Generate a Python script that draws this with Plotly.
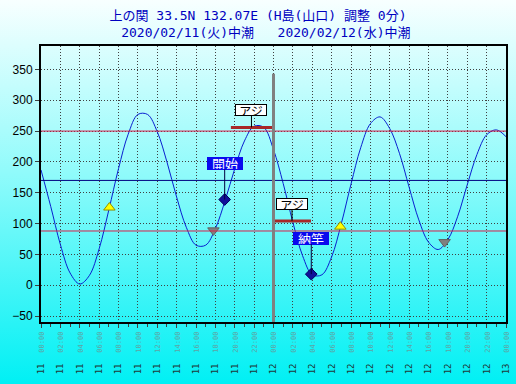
import base64
import plotly.graph_objects as go

# ---- data ----
hours = list(range(0, 49))
tide_cm = [187, 128, 66, 20, 2, 16, 59, 122, 189, 245, 277, 277, 249, 200, 143, 94,
           65, 65, 92, 137, 189, 234, 258, 256, 220, 165, 102, 48, 17, 17, 46, 100,
           164, 223, 262, 273, 254, 214, 159, 106, 70, 58, 74, 111, 163, 212, 244, 252, 241]

tick_hours = list(range(0, 49, 2))
tick_days = ["11"] * 12 + ["12"] * 12 + ["13"]
tick_times = ["00:00", "02:00", "04:00", "06:00", "08:00", "10:00", "12:00", "14:00",
              "16:00", "18:00", "20:00", "22:00"] * 2 + ["00:00"]

ref_levels = [250, 170, 88]
ref_colors = ["#d8204a", "#000080", "#d8204a"]

tri_up_x = [7.06, 30.9]
tri_up_y = [126, 95]
tri_down_x = [17.8, 41.66]
tri_down_y = [89, 70]
event_x = [18.96, 27.9]
event_y = [139, 18]
event_text = ["開始", "納竿"]

fish_x0 = [19.6, 23.95]
fish_x1 = [23.85, 27.87]
fish_y = [256, 104]
fish_text = ["アジ", "アジ"]

date_line_x = 24
date_line_y = [-59.6, 343]

title1 = "上の関 33.5N 132.07E (H島(山口) 調整 0分)"
title2 = "\u00a0\u00a02020/02/11(火)中潮\u00a0\u00a0\u00a02020/02/12(水)中潮"

# ---- figure ----
fig = go.Figure()

fig.add_trace(go.Scatter(x=hours, y=tide_cm, mode="lines", line=dict(color="#0a20d0", width=1, shape="spline"),
                         hoverinfo="skip", showlegend=False))

for lv, col in zip(ref_levels, ref_colors):
    fig.add_hline(y=lv, line=dict(color=col, width=1), layer="above")

fig.add_shape(type="line", xref="x", yref="y", x0=date_line_x, x1=date_line_x,
              y0=date_line_y[0], y1=date_line_y[1], line=dict(color="#808080", width=3), layer="above")

for x0, x1, y in zip(fish_x0, fish_x1, fish_y):
    fig.add_trace(go.Scatter(x=[x0, x1], y=[y, y], mode="lines",
                             line=dict(color="#a82828", width=3), showlegend=False, hoverinfo="skip"))

fig.add_trace(go.Scatter(x=tri_up_x, y=tri_up_y, mode="markers",
                         marker=dict(symbol="triangle-up", size=10, color="#ffff00",
                                     line=dict(color="#909000", width=1)), showlegend=False))
fig.add_trace(go.Scatter(x=tri_down_x, y=tri_down_y, mode="markers",
                         marker=dict(symbol="triangle-down", size=10, color="#808080",
                                     line=dict(color="#606060", width=1)), showlegend=False))
fig.add_trace(go.Scatter(x=event_x, y=event_y, mode="markers",
                         marker=dict(symbol="diamond", size=9, color="#10109a",
                                     line=dict(color="#000060", width=1)), showlegend=False))

cjk = "Noto Sans CJK JP"
for x0, x1, y, t in zip(fish_x0, fish_x1, fish_y, fish_text):
    fig.add_annotation(x=(x0 + x1) / 2, y=y, text=t, showarrow=True, arrowhead=0, arrowwidth=1,
                       arrowcolor="black", ax=0, ay=-17, standoff=0,
                       bgcolor="white", bordercolor="black", borderwidth=1, borderpad=0,
                       width=30, height=10, font=dict(family=cjk, size=12, color="black"))

for x, y, t in zip(event_x, event_y, event_text):
    fig.add_annotation(x=x, y=y, text=t, showarrow=True, arrowhead=0, arrowwidth=1,
                       arrowcolor="#000040", ax=0, ay=-36, standoff=0,
                       bgcolor="#0a0aee", bordercolor="#0a0aee", borderwidth=1, borderpad=0,
                       width=34, height=11, font=dict(family=cjk, size=13, color="white"))

ticktext = ["<span style='font-size:9px;color:#203838'>%s</span>\u00a0\u00a0"
            "<span style='font-size:7px;color:#5fa4a4'>%s</span>" % (d, t)
            for d, t in zip(tick_days, tick_times)]

svg = ("<svg xmlns='http://www.w3.org/2000/svg' width='516' height='384' preserveAspectRatio='none'>"
       "<defs><linearGradient id='g' x1='0' y1='0' x2='0' y2='1'>"
       "<stop offset='0' stop-color='#f8ffff'/><stop offset='0.45' stop-color='#90fbfb'/>"
       "<stop offset='1' stop-color='#00f0f4'/></linearGradient></defs>"
       "<rect width='516' height='384' fill='url(#g)'/></svg>")
src = "data:image/svg+xml;base64," + base64.b64encode(svg.encode()).decode()

L, R, T, B = 41, 10, 46, 62
W, H = 516, 384
pw, ph = W - L - R, H - T - B
fig.add_layout_image(source=src, xref="paper", yref="paper", x=-L / pw, y=1 + T / ph,
                     sizex=W / pw, sizey=H / ph, sizing="stretch", xanchor="left", yanchor="top",
                     layer="below")

fig.update_layout(
    width=W, height=H, margin=dict(l=L, r=R, t=T, b=B, autoexpand=False),
    paper_bgcolor="#80f8f8", plot_bgcolor="rgba(0,0,0,0)",
    title=dict(text=title1 + "<br>" + title2, x=0.5, xanchor="center", y=1 - 20 / H, yanchor="middle",
               font=dict(family="DejaVu Sans Mono, " + cjk, size=13, color="#0000c0")),
    showlegend=False,
    font=dict(family="Liberation Sans", size=12, color="black"),
)
fig.update_xaxes(range=[0, 48], tickvals=tick_hours, ticktext=ticktext, tickangle=-90,
                 tickfont=dict(family="DejaVu Sans Mono", size=9), automargin=False,
                 showgrid=True, gridcolor="#404040", griddash="1px,2px", gridwidth=1,
                 ticks="outside", ticklen=4, tickcolor="#404040",
                 minor=dict(dtick=1, ticks="outside", ticklen=3, tickcolor="#404040", showgrid=False),
                 showline=True, linecolor="black", linewidth=2, mirror=True, zeroline=False)
fig.update_yaxes(range=[-59.6, 388], tickvals=[-50, 0, 50, 100, 150, 200, 250, 300, 350],
                 tickfont=dict(family="Liberation Sans", size=12, color="black"), automargin=False,
                 showgrid=True, gridcolor="#404040", griddash="1px,2px", gridwidth=1,
                 ticks="outside", ticklen=4, tickcolor="#404040",
                 showline=True, linecolor="black", linewidth=2, mirror=True, zeroline=False)

fig.write_html("out.html", config={"displayModeBar": False},
               post_script="document.body.style.margin='0';document.body.style.padding='0';")
